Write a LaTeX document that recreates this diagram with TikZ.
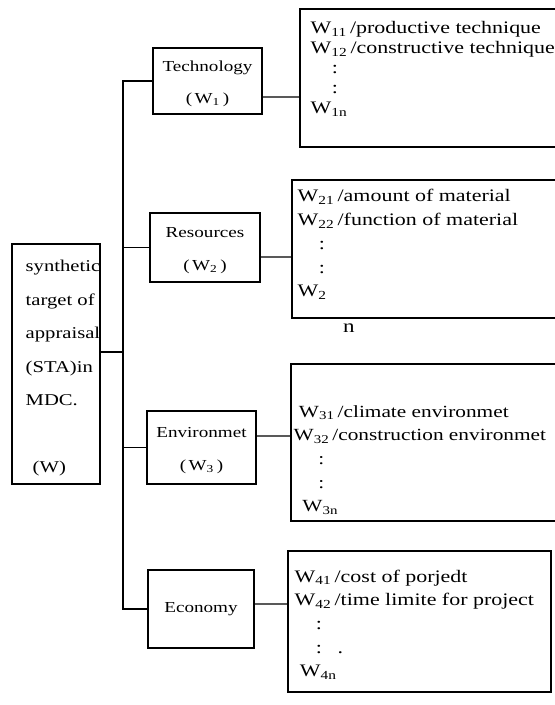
\documentclass[tikz,border=0pt]{standalone}
\usepackage{fontspec}
\setmainfont{Liberation Serif}[FakeStretch=1.25]

\newcommand{\wsub}[1]{W\textsubscript{#1}}

\begin{document}
\begin{tikzpicture}[x=0.02cm, y=-0.02cm]
        \tikzstyle{every node}=[rectangle, draw=black, line width=0.8pt, inner sep=0pt, text=black]
        \tikzstyle{edge}=[black, line width=0.8pt]
        \tikzstyle{txt}=[draw=none, anchor=base west]
        \tikzstyle{factor}=[font=\fontsize{8.7}{18.5}\selectfont]
        \tikzstyle{items}=[txt, font=\fontsize{10}{13.5}\selectfont]

        \useasboundingbox (0,0) rectangle (554,705);

        % target
        \node[minimum width=1.76cm, minimum height=4.8cm] (sta) at (56,364) {};
        \node[txt, font=\fontsize{9.4}{19}\selectfont] (staText) at (25,272) {\begin{tabular}[t]{@{}l@{}} synthetic \\ target of \\ appraisal \\ (STA)in \\ MDC. \\ \\ \hspace{4pt}(W) \end{tabular}};

        % factors
        \node[factor, minimum width=2.18cm, minimum height=1.32cm] (tech) at (207.5,81)  {\begin{tabular}{@{}c@{}} Technology \\ (\,\wsub{1}\,) \end{tabular}};
        \node[factor, minimum width=2.2cm,  minimum height=1.38cm] (res)  at (205,247.5) {\begin{tabular}{@{}c@{}} Resources  \\ (\,\wsub{2}\,) \end{tabular}};
        \node[factor, minimum width=2.18cm, minimum height=1.46cm] (env)  at (201.5,447.5) {\begin{tabular}{@{}c@{}} Environmet \\ (\,\wsub{3}\,) \end{tabular}};
        \node[factor, minimum width=2.12cm, minimum height=1.56cm] (eco)  at (201,609)   {Economy};

        % indexes
        \node[minimum width=5.16cm, minimum height=2.76cm] (w1) at (429,78) {};
        \node[minimum width=5.32cm, minimum height=2.76cm] (w2) at (425,249) {};
        \node[minimum width=5.34cm, minimum height=3.14cm] (w3) at (424.5,442.5) {};
        \node[minimum width=5.26cm, minimum height=2.82cm] (w4) at (419.5,621.5) {};

        \node[items, font=\fontsize{10}{11.3}\selectfont] (w1Text) at (310,34)  {\begin{tabular}[t]{@{}l@{}} \wsub{11}\,/productive technique \\ \wsub{12}\,/constructive technique \\ \hspace{12pt}: \\ \hspace{12pt}: \\ \wsub{1n} \end{tabular}};
        \node[items] (w2Text) at (297,202) {\begin{tabular}[t]{@{}l@{}} \wsub{21}\,/amount of material \\ \wsub{22}\,/function of material \\ \hspace{12pt}: \\ \hspace{12pt}: \\ \wsub{2} \end{tabular}};
        \node[draw=none, font=\fontsize{10.5}{13.5}\selectfont] (n2) at (349,328) {n};
        \node[items, font=\fontsize{9.7}{13.5}\selectfont] (w3Text) at (293,417) {\begin{tabular}[t]{@{}l@{}} \hspace{3pt}\wsub{31}\,/climate environmet \\ \wsub{32}\,/construction environmet \\ \hspace{14pt}: \\ \hspace{14pt}: \\ \hspace{5pt}\wsub{3n} \end{tabular}};
        \node[items] (w4Text) at (294,582) {\begin{tabular}[t]{@{}l@{}} \wsub{41}\,/cost of porjedt \\ \wsub{42}\,/time limite for project \\ \hspace{12pt}: \\ \hspace{12pt}:\hspace{9pt}. \\ \hspace{3pt}\wsub{4n} \end{tabular}};

        % tree
        \coordinate (trunk) at (123,352);
        \draw[edge] (tech.west) -| (trunk) |- (eco.west);
        \draw[edge] (res.west) -- (res.west -| trunk);
        \draw[edge] (env.west) -- (env.west -| trunk);
        \draw[edge] (sta.east |- trunk) -- (trunk);

        \draw[edge] ([yshift=-0.32cm]tech.east) -- ([yshift=-0.38cm]w1.west);
        \draw[edge] ([yshift=-0.19cm]res.east)  -- ([yshift=-0.16cm]w2.west);
        \draw[edge] ([yshift=0.23cm]env.east)   -- ([yshift=0.13cm]w3.west);
        \draw[edge] ([yshift=0.1cm]eco.east)    -- ([yshift=0.35cm]w4.west);
\end{tikzpicture}
\end{document}
